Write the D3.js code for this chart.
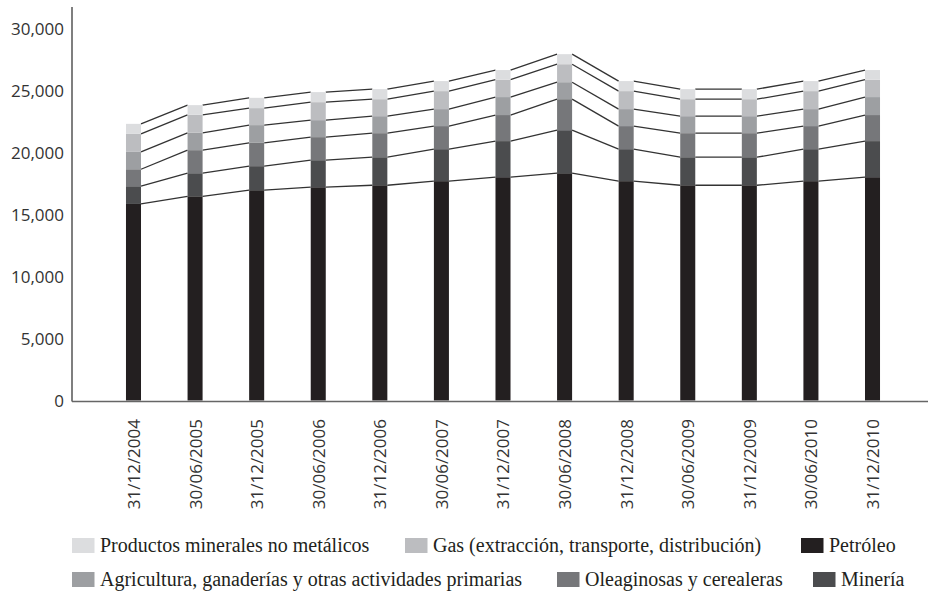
<!DOCTYPE html>
<html>
<head>
<meta charset="utf-8">
<script src="https://cdn.jsdelivr.net/npm/d3@7/dist/d3.min.js"></script>
<style>
  html, body { margin: 0; padding: 0; background: #fff; }
  svg { display: block; }
</style>
</head>
<body>
<svg id="chart" width="929" height="593"></svg>
<script>
const categories = ["31/12/2004","30/06/2005","31/12/2005","30/06/2006","31/12/2006","30/06/2007","31/12/2007","30/06/2008","31/12/2008","30/06/2009","31/12/2009","30/06/2010","31/12/2010"];
const petroleo    = [15850, 16470, 16960, 17200, 17360, 17690, 18010, 18330, 17690, 17360, 17360, 17690, 18010];
const mineria     = [1430, 1860, 1940, 2180, 2260, 2580, 2910, 3470, 2580, 2260, 2260, 2580, 2910];
const oleaginosas = [1370, 1860, 1880, 1860, 1940, 1860, 2100, 2500, 1860, 1940, 1940, 1860, 2100];
const agricultura = [1400, 1400, 1430, 1370, 1370, 1370, 1450, 1370, 1370, 1370, 1370, 1370, 1450];
const gas         = [1450, 1450, 1370, 1450, 1370, 1450, 1400, 1450, 1450, 1370, 1370, 1450, 1400];
const productos   = [810, 780, 830, 810, 810, 810, 780, 810, 810, 810, 810, 810, 780];
const yTicks = [0, 5000, 10000, 15000, 20000, 25000, 30000];

const seriesNames = ["Petróleo", "Minería", "Oleaginosas y cerealeras", "Agricultura, ganaderías y otras actividades primarias", "Gas (extracción, transporte, distribución)", "Productos minerales no metálicos"];
const seriesValues = [petroleo, mineria, oleaginosas, agricultura, gas, productos];
const seriesColors = ["#231f20", "#4b4c4e", "#76777a", "#9d9fa2", "#bcbdc0", "#dcdddf"];
const legendRows = [
  ["Productos minerales no metálicos", "Gas (extracción, transporte, distribución)", "Petróleo"],
  ["Agricultura, ganaderías y otras actividades primarias", "Oleaginosas y cerealeras", "Minería"]
];

const svg = d3.select("#chart");
const x = d3.scaleBand().domain(categories).range([102.7, 903.3]).paddingInner(0.756).paddingOuter(0.378);
const y = d3.scaleLinear().domain([0, 30000]).range([400.5, 28.5]);

const table = categories.map((c, i) => {
  const row = { cat: c };
  seriesNames.forEach((s, k) => row[s] = seriesValues[k][i]);
  return row;
});
const stacked = d3.stack().keys(seriesNames)(table);

// series lines
const lineG = svg.append("g");
stacked.forEach(layer => {
  for (let i = 0; i < layer.length - 1; i++) {
    lineG.append("line")
      .attr("x1", x(categories[i]) + x.bandwidth())
      .attr("y1", y(layer[i][1]))
      .attr("x2", x(categories[i + 1]))
      .attr("y2", y(layer[i + 1][1]))
      .attr("stroke", "#333")
      .attr("stroke-width", 1.3);
  }
});

// bars
stacked.forEach((layer, k) => {
  svg.append("g").attr("fill", seriesColors[k])
    .selectAll("rect").data(layer).join("rect")
    .attr("x", (d, i) => x(categories[i]))
    .attr("width", x.bandwidth())
    .attr("y", d => y(d[1]))
    .attr("height", d => y(d[0]) - y(d[1]));
});

// axes
svg.append("line").attr("x1", 72).attr("x2", 72).attr("y1", 7).attr("y2", y(0) + 1)
  .attr("stroke", "#555").attr("stroke-width", 1.5);
svg.append("line").attr("x1", 72).attr("x2", 928).attr("y1", y(0) + 1).attr("y2", y(0) + 1)
  .attr("stroke", "#666").attr("stroke-width", 1.5);

const yAxis = d3.axisLeft(y).tickValues(yTicks).tickFormat(d3.format(",")).tickSize(0).tickPadding(0);
const yg = svg.append("g").attr("transform", "translate(64,0)").call(yAxis);
yg.select(".domain").remove();
yg.selectAll("text").attr("font-family", "'Open Sans', sans-serif").attr("font-size", 17).attr("fill", "#333").attr("dy", "0.34em");

const xAxis = d3.axisBottom(x).tickSize(0).tickPadding(0);
const xg = svg.append("g").attr("transform", "translate(0,419)").call(xAxis);
xg.select(".domain").remove();
xg.selectAll("text")
  .attr("font-family", "'Open Sans', sans-serif").attr("font-size", 17).attr("fill", "#333")
  .attr("transform", "rotate(-90)")
  .attr("text-anchor", "end")
  .attr("x", 0).attr("y", 0).attr("dy", "0.38em");

// legend
const legendX = [[72, 405, 801], [72, 557, 813]];
const legendY = [545.5, 579.5];
legendRows.forEach((row, r) => {
  row.forEach((name, j) => {
    const k = seriesNames.indexOf(name);
    const g = svg.append("g").attr("transform", `translate(${legendX[r][j]},${legendY[r]})`);
    g.append("rect").attr("x", 0).attr("y", -7.5).attr("width", 22.5).attr("height", 15).attr("fill", seriesColors[k]);
    g.append("text").attr("x", 28).attr("y", 0).attr("dy", "0.33em")
      .attr("font-family", "'Liberation Serif', serif").attr("font-size", 20).attr("fill", "#231f20")
      .text(name);
  });
});
</script>
</body>
</html>
